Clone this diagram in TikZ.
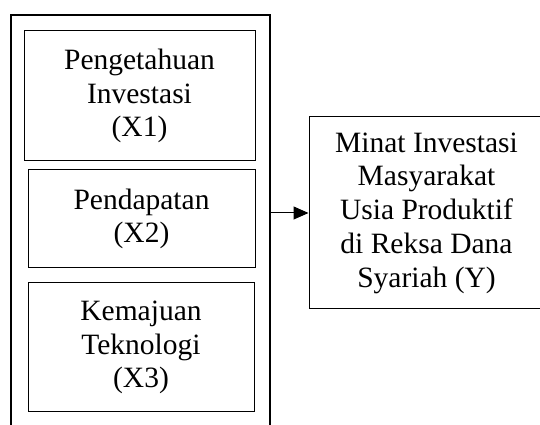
\documentclass[tikz,border=0pt]{standalone}
\usepackage{fontspec}
\setmainfont{Liberation Serif}
\usetikzlibrary{arrows.meta}
\tikzset{
  varbox/.style={draw=black, line width=1pt, align=center, inner sep=0pt,
    font=\fontsize{29.5}{33.75}\selectfont},
  framebox/.style={draw=black, line width=1.1pt, inner sep=0pt},
  link/.style={line width=1pt, -{Triangle[length=15pt,width=13pt]}}
}
\begin{document}
\begin{tikzpicture}[x=1pt,y=1pt]
\useasboundingbox (0,0) rectangle (540,425);
\clip (0,0) rectangle (540,425);
\node[framebox, minimum width=259pt, minimum height=430pt] (outer) at (140.5,195) {};
\node[varbox, minimum width=231pt, minimum height=130pt] (x1) at (139.5,329) {Pengetahuan\\Investasi\\(X1)};
\node[varbox, minimum width=227pt, minimum height=98pt] (x2) at (141.5,206) {Pendapatan\\(X2)};
\node[varbox, minimum width=226pt, minimum height=129pt] (x3) at (141,77.5) {Kemajuan\\Teknologi\\(X3)};
\node[varbox, minimum width=235pt, minimum height=192pt] (y) at (426.5,212) {Minat Investasi\\Masyarakat\\Usia Produktif\\di Reksa Dana\\Syariah (Y)};
\draw[link] (outer.east |- y.west) -- (y.west);
\end{tikzpicture}
\end{document}
